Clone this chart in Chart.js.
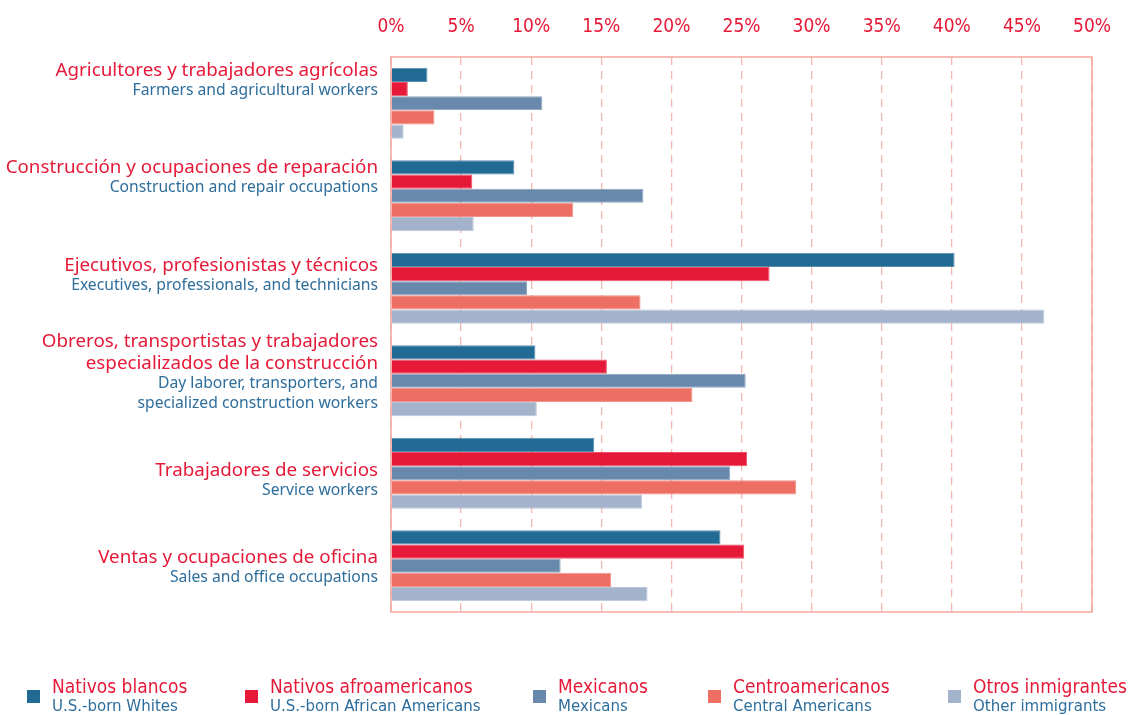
<!DOCTYPE html>
<html>
<head>
<meta charset="utf-8">
<script src="https://cdn.jsdelivr.net/npm/chart.js@4"></script>
<style>
  html, body { margin: 0; padding: 0; background: #fff; }
  #wrap { width: 1132px; height: 715px; }
</style>
</head>
<body>
<div id="wrap"><canvas id="dataChart" width="1132" height="715"></canvas></div>
<script>
// occupations, Spanish and English label lines
const labelsEs = [
  ['Agricultores y trabajadores agrícolas'],
  ['Construcción y ocupaciones de reparación'],
  ['Ejecutivos, profesionistas y técnicos'],
  ['Obreros, transportistas y trabajadores', 'especializados de la construcción'],
  ['Trabajadores de servicios'],
  ['Ventas y ocupaciones de oficina']
];
const labelsEn = [
  ['Farmers and agricultural workers'],
  ['Construction and repair occupations'],
  ['Executives, professionals, and technicians'],
  ['Day laborer, transporters, and', 'specialized construction workers'],
  ['Service workers'],
  ['Sales and office occupations']
];

const seriesEs = ['Nativos blancos', 'Nativos afroamericanos', 'Mexicanos', 'Centroamericanos', 'Otros inmigrantes'];
const seriesEn = ['U.S.-born Whites', 'U.S.-born African Americans', 'Mexicans', 'Central Americans', 'Other immigrants'];

const nativosBlancos = [2.6, 8.8, 40.2, 10.3, 14.5, 23.5];
const nativosAfro    = [1.2, 5.8, 27.0, 15.4, 25.4, 25.2];
const mexicanos      = [10.8, 18.0, 9.7, 25.3, 24.2, 12.1];
const centroamer     = [3.1, 13.0, 17.8, 21.5, 28.9, 15.7];
const otrosInmig     = [0.9, 5.9, 46.6, 10.4, 17.9, 18.3];

const xTicks = [0, 5, 10, 15, 20, 25, 30, 35, 40, 45, 50];

const colors = ['#206a94', '#e61938', '#6889ab', '#ed6e62', '#a3b3cb'];
const edges  = ['rgba(32,106,148,0.75)', 'rgba(230,25,56,0.75)', 'rgba(104,137,171,0.75)', 'rgba(237,110,98,0.75)', 'rgba(163,179,203,0.75)'];
const RED = '#e61938';
const BLUE = '#2e6e9c';
const LINE = '#f2a59c';
const GRID = '#f6b8b0';
const NARROW = '"Liberation Sans Narrow", "DejaVu Sans Condensed", sans-serif';

// first-line offset of each label block from its category centre
const labelShift = [-33, -28, -23, -39, -3, -8];

const sideLabels = {
  id: 'sideLabels',
  afterDraw(chart) {
    const ctx = chart.ctx;
    const y = chart.scales.y;
    const a = chart.chartArea;
    ctx.save();
    ctx.textAlign = 'right';
    ctx.textBaseline = 'middle';
    labelsEs.forEach((es, i) => {
      let py = y.getPixelForValue(i) + labelShift[i];
      ctx.fillStyle = RED;
      ctx.font = '18.8px "Noto Sans", sans-serif';
      es.forEach(t => { ctx.fillText(t, 378, py); py += 22; });
      py -= 2;
      ctx.fillStyle = BLUE;
      ctx.font = '15.7px "Noto Sans", sans-serif';
      labelsEn[i].forEach(t => { ctx.fillText(t, 378, py); py += 19.5; });
    });
    // frame
    ctx.strokeStyle = LINE;
    ctx.lineWidth = 1.5;
    ctx.strokeRect(a.left, a.top, a.right - a.left, a.bottom - a.top);

    // legend
    const xs = [27, 245, 533, 708, 948];
    chart.data.datasets.forEach((ds, i) => {
      ctx.fillStyle = ds.backgroundColor;
      ctx.fillRect(xs[i], 690, 13, 13);
      ctx.textAlign = 'left';
      ctx.fillStyle = RED;
      ctx.font = '19px ' + NARROW;
      ctx.fillText(seriesEs[i], xs[i] + 25, 688);
      ctx.fillStyle = BLUE;
      ctx.font = '16.7px ' + NARROW;
      ctx.fillText(seriesEn[i], xs[i] + 25, 707);
    });
    ctx.restore();
  }
};

const ctx = document.getElementById('dataChart').getContext('2d');
const values = [nativosBlancos, nativosAfro, mexicanos, centroamer, otrosInmig];

new Chart(ctx, {
  type: 'bar',
  data: {
    labels: labelsEs.map(l => l.join(' ')),
    datasets: values.map((v, i) => ({
      label: seriesEs[i],
      data: v,
      backgroundColor: colors[i],
      borderColor: edges[i],
      borderWidth: 1,
      categoryPercentage: 0.77,
      barPercentage: 1.0
    }))
  },
  options: {
    indexAxis: 'y',
    responsive: false,
    animation: false,
    layout: { padding: { left: 391, right: 40, top: 0, bottom: 103 } },
    plugins: { legend: { display: false }, tooltip: { enabled: false } },
    scales: {
      x: {
        position: 'top',
        min: 0,
        max: 50,
        afterBuildTicks(scale) { scale.ticks = xTicks.map(v => ({ value: v })); },
        afterFit(scale) { scale.height = 57; },
        grid: {
          color: GRID,
          lineWidth: 1.3,
          drawTicks: false
        },
        border: { display: false, dash: [8, 6] },
        ticks: {
          color: RED,
          padding: 19,
          font: { family: NARROW, size: 19 },
          callback: v => v + '%'
        }
      },
      y: {
        display: false
      }
    }
  },
  plugins: [sideLabels]
});
</script>
</body>
</html>
